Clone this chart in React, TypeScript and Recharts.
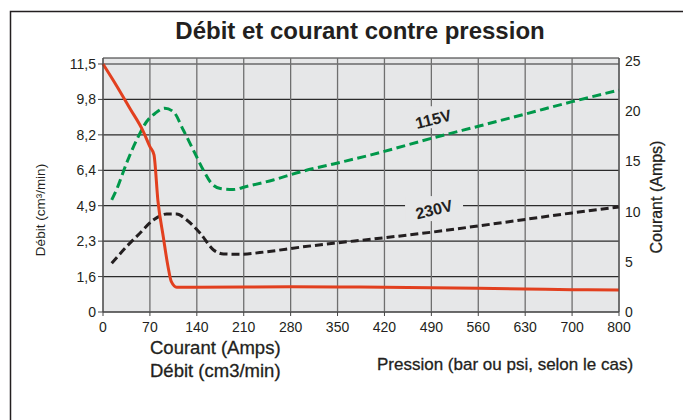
import React from 'react';
import { LineChart, Line, XAxis, YAxis, CartesianGrid, ReferenceDot } from 'recharts';

// tick labels (evenly spaced on the sheet even though the values are not)
const pressionTicks = [0, 70, 140, 210, 280, 350, 420, 490, 560, 630, 700, 800];
const debitTicks = [0, 1.6, 2.3, 4.9, 6.4, 8.2, 9.8, 11.5];
const courantTicks = [0, 5, 10, 15, 20, 25];

// débit (cm3/min) vs pression
const debitP = [0, 20, 40, 60, 70, 76, 82, 90, 97, 102, 110, 140, 210, 280, 350, 420, 490, 560, 630, 700, 800];
const debitV = [11.5, 10.47, 9.4, 8.36, 7.6, 7.2, 5.1, 2.6, 1.8, 1.37, 1.12, 1.12, 1.13, 1.14, 1.13, 1.12, 1.1, 1.07, 1.04, 1.01, 0.99];

// courant (A) 115V
const amps115P = [13, 20, 35, 50, 65, 78, 92, 105, 120, 135, 150, 162, 175, 194, 214, 254, 294, 344, 400, 493, 563, 632, 700, 800];
const amps115V = [11.16, 12.15, 14.8, 17.1, 18.95, 19.8, 20.3, 19.95, 18.1, 16.1, 14.1, 12.8, 12.3, 12.2, 12.5, 13.15, 13.95, 14.75, 15.65, 17.35, 18.55, 19.75, 20.95, 22.1];

// courant (A) 230V
const amps230P = [13, 35, 55, 75, 95, 110, 125, 145, 165, 180, 204, 244, 294, 344, 400, 493, 563, 632, 700, 800];
const amps230V = [4.85, 6.5, 7.84, 9.16, 9.76, 9.76, 9.16, 7.84, 6.18, 5.78, 5.75, 6.0, 6.45, 6.85, 7.25, 7.97, 8.6, 9.24, 9.87, 10.45];

const BG = '#e6e7e8';
const INK = '#231f20';
const FONT = '"Liberation Sans", Arial, Helvetica, sans-serif';

// position of a value between the evenly spaced ticks
function toIndex(v: number, ticks: number[]) {
  for (let i = 0; i < ticks.length - 1; i++) {
    if (v <= ticks[i + 1]) return i + (v - ticks[i]) / (ticks[i + 1] - ticks[i]);
  }
  return ticks.length - 1;
}

const debitData = debitP.map((p, i) => ({ x: toIndex(p, pressionTicks), y: toIndex(debitV[i], debitTicks) }));
const data115 = amps115P.map((p, i) => ({ x: toIndex(p, pressionTicks), y: amps115V[i] }));
const data230 = amps230P.map((p, i) => ({ x: toIndex(p, pressionTicks), y: amps230V[i] }));

const fmt = (v: number) => String(v).replace('.', ',');

function tag(text: string, w: number, h: number, dy: number) {
  return (props: any) => {
    const { cx, cy } = props;
    return (
      <g>
        <rect x={cx - w / 2} y={cy - h / 2 - dy} width={w} height={h} fill={BG} />
        <text
          x={cx}
          y={cy}
          transform={`rotate(-14 ${cx} ${cy})`}
          textAnchor="middle"
          dominantBaseline="central"
          fontSize={16}
          fontWeight="bold"
          fill={INK}
        >
          {text}
        </text>
      </g>
    );
  };
}

const labelStyle = { fill: INK, stroke: INK, strokeWidth: 0.3 };

export default function App() {
  return (
    <div style={{ position: 'fixed', left: 0, top: 0, width: 683, height: 420, overflow: 'hidden', background: '#fff', fontFamily: FONT }}>
      <svg width={683} height={420} style={{ position: 'absolute', left: 0, top: 0 }}>
        <rect x={10.5} y={11.5} width={700} height={500} fill="none" stroke={INK} strokeWidth={1.5} />
        <text x={360} y={39} textAnchor="middle" fontSize={24} fontWeight="bold" fill={INK}>
          Débit et courant contre pression
        </text>
        <text x={150} y={354} fontSize={18.5} {...labelStyle}>Courant (Amps)</text>
        <text x={150} y={377} fontSize={18.5} {...labelStyle}>Débit (cm3/min)</text>
        <text x={377} y={370} fontSize={17} {...labelStyle}>Pression (bar ou psi, selon le cas)</text>
        <text x={40} y={210} transform="rotate(-90 40 210)" textAnchor="middle" dominantBaseline="central" fontSize={13.5} fill={INK}>
          Débit (cm³/min)
        </text>
        <text x={656} y={197} transform="rotate(-90 656 197)" textAnchor="middle" dominantBaseline="central" fontSize={16} {...labelStyle}>
          Courant (Amps)
        </text>
      </svg>
      <div style={{ position: 'absolute', left: 0, top: 0 }}>
        <LineChart width={683} height={420} margin={{ top: 58, right: 4, bottom: 78, left: 43 }}>
          <CartesianGrid yAxisId="left" vertical={false} fill={BG} stroke="#2b2b2b" strokeWidth={1.2} />
          <CartesianGrid yAxisId="left" horizontal={false} stroke="#6f6f6f" strokeWidth={1.3} />
          <XAxis
            dataKey="x"
            type="number"
            domain={[0, 11]}
            ticks={pressionTicks.map((_, i) => i)}
            tickFormatter={(i: number) => String(pressionTicks[i])}
            height={30}
            tickSize={4}
            tickMargin={6}
            stroke="#444"
            tick={{ fill: INK, fontSize: 14 }}
          />
          <YAxis
            yAxisId="left"
            type="number"
            domain={[0, 7.169]}
            ticks={debitTicks.map((_, i) => i)}
            tickFormatter={(i: number) => fmt(debitTicks[i])}
            width={60}
            tickSize={5}
            tickMargin={2}
            stroke="#444"
            tick={{ fill: INK, fontSize: 14 }}
          />
          <YAxis
            yAxisId="right"
            orientation="right"
            type="number"
            domain={[0, 25.3]}
            ticks={courantTicks}
            width={60}
            tickSize={4}
            tickMargin={2}
            tickLine={false}
            stroke="#444"
            tick={{ fill: INK, fontSize: 14 }}
          />
          <ReferenceDot yAxisId="right" x={toIndex(493, pressionTicks)} y={19.2} r={0} shape={tag('115V', 42, 22, 2)} />
          <ReferenceDot yAxisId="right" x={toIndex(494, pressionTicks)} y={10.2} r={0} shape={tag('230V', 58, 25, 1)} />
          <Line yAxisId="right" data={data115} dataKey="y" type="monotone" stroke="#00984a" strokeWidth={3} strokeDasharray="9 4.5" dot={false} isAnimationActive={false} />
          <Line yAxisId="right" data={data230} dataKey="y" type="monotone" stroke={INK} strokeWidth={3} strokeDasharray="8 4" dot={false} isAnimationActive={false} />
          <Line yAxisId="left" data={debitData} dataKey="y" type="monotone" stroke="#e2401f" strokeWidth={3} dot={false} isAnimationActive={false} />
        </LineChart>
      </div>
    </div>
  );
}
